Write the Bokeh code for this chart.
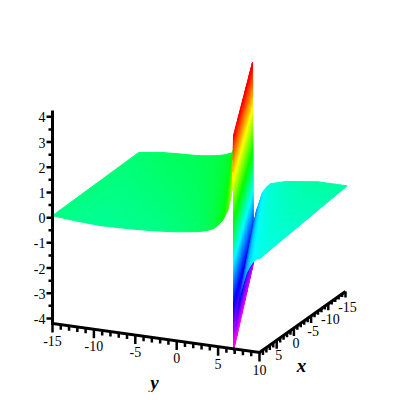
import colorsys
from bokeh.plotting import figure
from bokeh.embed import file_html
from bokeh.resources import INLINE
from bokeh.core.properties import value

# ---- surface rows (x is the row, then y and z pairs) ----
x_front = 10.0
x_back = -15.0
left_front_y = [-15, -12.2, -9.2, -6.2, -3.16, -0.2, 2.51, 3.6, 4.44, 5.0, 5.53, 6.14, 6.50, 6.74, 6.86]
left_front_z = [0.08, 0.0, -0.05, -0.02, 0.03, 0.12, 0.25, 0.34, 0.46, 0.62, 0.83, 1.25, 1.74, 2.35, 4.25]
left_back_y = [-15, -14.4, -13.55, -12.8, -11.98, -10.0, -7.87, -6.6, -5.46, -4.5, -3.65, -2.92, -2.32, -1.84, -1.23]
left_back_z = [0.16, 0.19, 0.23, 0.27, 0.30, 0.34, 0.37, 0.42, 0.48, 0.56, 0.68, 1.79, 2.80, 3.42, 4.37]
right_front_y = [6.86, 7.22, 7.71, 8.43, 8.8, 9.15, 9.52, 9.76, 10.0]
right_front_z = [-4.27, -3.06, -1.93, -1.10, -0.86, -0.67, -0.54, -0.49, -0.48]
right_back_y = [-1.11, -0.99, -0.75, -0.02, 0.45, 0.94, 2.75, 6.62, 10.2]
right_back_z = [-3.57, -2.49, -1.49, -0.74, -0.50, -0.34, -0.17, 0.0, 0.0]
wall_front_y = [6.86, 6.86]
wall_front_z = [4.25, -4.27]
wall_back_y = [-1.23, -1.11]
wall_back_z = [4.37, -3.57]

# ---- axes ----
x_ticks = [10, 5, 0, -5, -10, -15]
y_ticks = [-15, -10, -5, 0, 5, 10]
z_ticks = [-4, -3, -2, -1, 0, 1, 2, 3, 4]
z_lo, z_hi = -4.2, 4.25
hue_span = 4.15


def project(x, y, z):
    return (52 + 8.28 * (y + 15) - 3.44 * (x - 10),
            323 + 1.16 * (y + 15) + 2.44 * (x - 10) - 25.2 * (z + 4.2))


def zhue(z):
    h = 150 - z / hue_span * 150
    h = max(0.0, min(300.0, h)) / 360
    r, g, b = colorsys.hsv_to_rgb(h, 1, 1)
    return "#%02x%02x%02x" % (round(r * 255), round(g * 255), round(b * 255))


def sheet(fy, fz, by, bz, ns, nt, shade=0.0):
    xs, ys, cs = [], [], []
    for i in range(len(fy) - 1):
        for k in range(nt):
            t0, t1 = k / nt, (k + 1) / nt
            for j in range(ns):
                s0, s1 = j / ns, (j + 1) / ns

                def pt(s, t):
                    yf = fy[i] + (fy[i + 1] - fy[i]) * t
                    zf = fz[i] + (fz[i + 1] - fz[i]) * t
                    yb = by[i] + (by[i + 1] - by[i]) * t
                    zb = bz[i] + (bz[i + 1] - bz[i]) * t
                    return (x_front + (x_back - x_front) * s,
                            yf + (yb - yf) * s, zf + (zb - zf) * s)

                q = [pt(s0, t0), pt(s1, t0), pt(s1, t1), pt(s0, t1)]
                pr = [project(*a) for a in q]
                xs.append([a[0] for a in pr])
                ys.append([a[1] for a in pr])
                cs.append(zhue(sum(a[2] for a in q) / 4 + shade))
    return xs, ys, cs


p = figure(width=392, height=392, x_range=(0, 392), y_range=(392, 0),
           output_backend="svg", toolbar_location=None, min_border=0)
p.axis.visible = False
p.grid.visible = False
p.outline_line_color = None
p.background_fill_color = "white"

for part in (sheet(left_front_y, left_front_z, left_back_y, left_back_z, 8, 4, -0.1),
             sheet(wall_front_y, wall_front_z, wall_back_y, wall_back_z, 6, 90),
             sheet(right_front_y, right_front_z, right_back_y, right_back_z, 12, 5, -0.22)):
    p.patches(part[0], part[1], fill_color=part[2], line_color=part[2], line_width=1)

# axis spines
z_bottom = project(10, -15, z_lo)
z_top = project(10, -15, z_hi)
y_end = project(10, 10, z_lo)
x_end = project(-15, 10, z_lo)
p.line([z_top[0], z_bottom[0], y_end[0], x_end[0]],
       [z_top[1], z_bottom[1], y_end[1], x_end[1]],
       line_color="black", line_width=3, line_join="miter")

# ticks
def ticks(pairs, width):
    p.multi_line([a[0] for a in pairs], [a[1] for a in pairs], line_color="black", line_width=width)

z_major, z_minor = [], []
for v in z_ticks:
    a = project(10, -15, v)
    z_major.append(([a[0], a[0] - 6], [a[1], a[1]]))
    if v < z_ticks[-1]:
        b = project(10, -15, v + 0.5)
        z_minor.append(([b[0], b[0] - 4], [b[1], b[1]]))
y_major, y_minor = [], []
for v in range(-15, 11):
    a = project(10, v, z_lo)
    (y_major if v in y_ticks else y_minor).append(
        ([a[0], a[0]], [a[1], a[1] + (9 if v in y_ticks else 5)]))
x_major, x_minor = [], []
for v in range(-15, 10):
    a = project(v, 10, z_lo)
    depth = (v + 15) / 25
    (x_major if v in x_ticks else x_minor).append(
        ([a[0], a[0]], [a[1], a[1] + ((6 + 3 * depth) if v in x_ticks else (3 + 2 * depth))]))
ticks(z_major, 2.5)
ticks(z_minor, 2.5)
ticks(y_major, 2.5)
ticks(y_minor, 2.5)
ticks(x_major, 2.5)
ticks(x_minor, 2.5)

FONT = value("Liberation Serif")
TICK_SIZE = "14px"


def lab(v):
    return str(v)


zp = [project(10, -15, v) for v in z_ticks]
p.text([a[0] - 7 for a in zp], [a[1] + 0.5 for a in zp], text=[lab(v) for v in z_ticks],
       text_font=FONT, text_font_size=TICK_SIZE, text_color="black",
       text_align="right", text_baseline="middle")
yp = [project(10, v, z_lo) for v in y_ticks]
p.text([a[0] for a in yp], [a[1] + 17 for a in yp], text=[lab(v) for v in y_ticks],
       text_font=FONT, text_font_size=TICK_SIZE, text_color="black",
       text_align="center", text_baseline="middle")
tx = [v for v in x_ticks if v != 10]
xp = [project(v, 10, z_lo) for v in tx]
p.text([a[0] + 2 for a in xp], [a[1] + 15 for a in xp], text=[lab(v) for v in tx],
       text_font=FONT, text_font_size=TICK_SIZE, text_color="black",
       text_align="center", text_baseline="middle")

p.text([154], [382], text=["y"], text_font=FONT, text_font_size="19px",
       text_font_style="bold italic", text_color="black",
       text_align="center", text_baseline="middle")
p.text([301], [365], text=["x"], text_font=FONT, text_font_size="19px",
       text_font_style="bold italic", text_color="black",
       text_align="center", text_baseline="middle")

open("out.html", "w").write(file_html(p, INLINE))
